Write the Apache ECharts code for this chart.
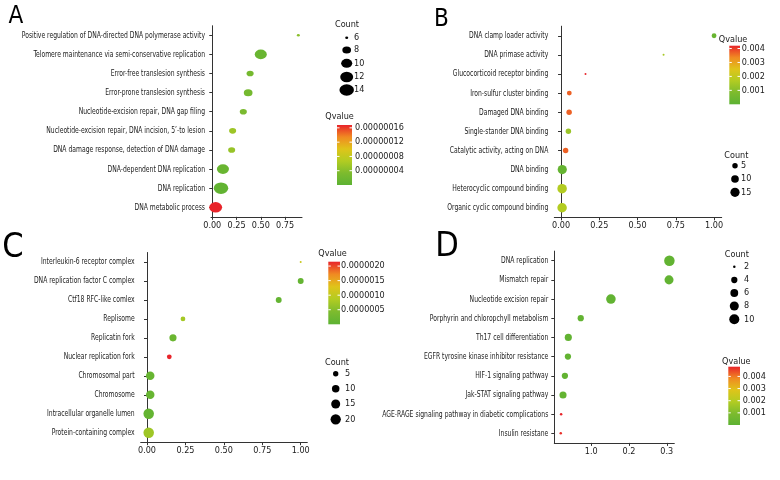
<!DOCTYPE html>
<html><head><meta charset="utf-8">
<script src="https://cdn.jsdelivr.net/npm/echarts@6/dist/echarts.min.js"></script>
<style>html,body{margin:0;padding:0;background:#fff}#c{width:780px;height:480px}</style>
</head><body><div id="c"></div>
<script>
// ---------- Panel A ----------
const catA = ['Positive regulation of DNA-directed DNA polymerase activity','Telomere maintenance via semi-conservative replication','Error-free translesion synthesis','Error-prone translesion synthesis','Nucleotide-excision repair, DNA gap filing','Nucleotide-excision repair, DNA incision, 5\u2019-to lesion','DNA damage response, detection of DNA damage','DNA-dependent DNA replication','DNA replication','DNA metabolic process'];
const xA = [0.887, 0.50, 0.39, 0.37, 0.32, 0.21, 0.20, 0.11, 0.09, 0.035];
const countA = [6, 11, 7, 8, 7, 7, 7, 11, 14, 12];
const qA = [0.000000042, 0.000000013, 0.000000025, 0.000000025, 0.00000003, 0.000000054, 0.00000005, 0.000000013, 0.000000005, 0.000000168];
const ticksA = [0, 0.25, 0.5, 0.75];
const tickLabelsA = ['0.00','0.25','0.50','0.75'];
const sizeBreaksA = [6, 8, 10, 12, 14];
const qBreaksA = [0.00000016, 0.00000012, 0.00000008, 0.00000004];
const qLabelsA = ['0.00000016','0.00000012','0.00000008','0.00000004'];

// ---------- Panel B ----------
const catB = ['DNA clamp loader activity','DNA primase activity','Glucocorticoid receptor binding','Iron-sulfur cluster binding','Damaged DNA binding','Single-stander DNA binding','Catalytic activity, acting on DNA','DNA binding','Heterocyclic compound binding','Organic cyclic compound binding'];
const xB = [1.00, 0.67, 0.16, 0.054, 0.053, 0.048, 0.03, 0.008, 0.007, 0.007];
const countB = [4, 2, 2, 4, 5, 5, 5, 15, 16, 16];
const qB = [0.0003, 0.0015, 0.0042, 0.0037, 0.0037, 0.0013, 0.0037, 0.0002, 0.0017, 0.0017];
const ticksB = [0, 0.25, 0.5, 0.75, 1];
const tickLabelsB = ['0.00','0.25','0.50','0.75','1.00'];
const sizeBreaksB = [5, 10, 15];
const qBreaksB = [0.004, 0.003, 0.002, 0.001];
const qLabelsB = ['0.004','0.003','0.002','0.001'];

// ---------- Panel C ----------
const catC = ['Interleukin-6 receptor complex','DNA replication factor C complex','Ctf18 RFC-like comlex','Replisome','Replicatin fork','Nuclear replication fork','Chromosomal part','Chromosome','Intracellular organelle lumen','Protein-containing complex'];
const xC = [1.00, 1.00, 0.857, 0.234, 0.169, 0.145, 0.021, 0.021, 0.011, 0.011];
const countC = [2, 6, 6, 4, 9, 4, 13, 13, 21, 21];
const qC = [0.00000107, 0.0000001, 0.0000001, 0.00000075, 0.00000017, 0.00000215, 0.00000013, 0.00000013, 0.0000001, 0.0000007];
const ticksC = [0, 0.25, 0.5, 0.75, 1];
const tickLabelsC = ['0.00','0.25','0.50','0.75','1.00'];
const sizeBreaksC = [5, 10, 15, 20];
const qBreaksC = [0.000002, 0.0000015, 0.000001, 0.0000005];
const qLabelsC = ['0.0000020','0.0000015','0.0000010','0.0000005'];

// ---------- Panel D ----------
const catD = ['DNA replication','Mismatch repair','Nucleotide excision repair','Porphyrin and chloropchyll metabolism','Th17 cell differentiation','EGFR tyrosine kinase inhibitor resistance','HIF-1 signaling pathway','Jak-STAT signaling pathway','AGE-RAGE signaling pathway in diabetic complications','Insulin resistane'];
const xD = [0.307, 0.306, 0.152, 0.072, 0.039, 0.038, 0.030, 0.025, 0.020, 0.019];
const countD = [11, 8, 9, 4, 5, 4, 4, 5, 2, 2];
const qD = [0.00015, 0.00015, 0.00015, 0.00015, 0.00015, 0.00015, 0.00015, 0.0002, 0.0048, 0.0047];
const ticksD = [0.1, 0.2, 0.3];
const tickLabelsD = ['1.0','0.2','0.3'];
const sizeBreaksD = [2, 4, 6, 8, 10];
const qBreaksD = [0.004, 0.003, 0.002, 0.001];
const qLabelsD = ['0.004','0.003','0.002','0.001'];

// ---------- styling / layout ----------
const FONT = "'Liberation Sans Narrow','DejaVu Sans Condensed','Open Sans',sans-serif";
const TXT = '#1a1a1a';
const palette = ['#5db233','#7dbb2e','#b2cc22','#dfc41a','#f08a22','#e8242a'];
const LABEL_SCALE = 0.71;

const panels = [
  {cats:catA, xs:xA, counts:countA, q:qA, ticks:ticksA, tl:tickLabelsA, sb:sizeBreaksA, qb:qBreaksA, ql:qLabelsA,
   grid:{left:211, top:25.75, width:91, height:191.1}, xmin:-0.013, xmax:0.925,
   qlo:0, qhi:0.000000168, size:{cMin:6, cMax:14, dMin:3, dMax:14.5, ry:0.8},
   letter:{t:'A', x:16, y:17, fs:24},
   cl:{title:[347,25], dotX:346.7, ys:[37.7,50,63.3,77,90], labX:354},
   cb:{title:[339.5,117], x:337, y:125, w:15, h:60, labX:355}},
  {cats:catB, xs:xB, counts:countB, q:qB, ticks:ticksB, tl:tickLabelsB, sb:sizeBreaksB, qb:qBreaksB, ql:qLabelsB,
   grid:{left:554.3, top:26.2, width:167.4, height:191.1}, xmin:-0.044, xmax:1.05,
   qlo:0, qhi:0.0042, size:{cMin:2, cMax:16, dMin:2, dMax:9.5, ry:1},
   letter:{t:'B', x:441.3, y:20, fs:24},
   cl:{title:[736.3,155.3], dotX:735, ys:[165.7,179,192.3], labX:741},
   cb:{title:[733,39.3], x:729.3, y:45.7, w:10.7, h:58.6, labX:741.7}},
  {cats:catC, xs:xC, counts:countC, q:qC, ticks:ticksC, tl:tickLabelsC, sb:sizeBreaksC, qb:qBreaksC, ql:qLabelsC,
   grid:{left:140.7, top:252.5, width:166.6, height:189.7}, xmin:-0.041, xmax:1.043,
   qlo:0, qhi:0.00000215, size:{cMin:2, cMax:21, dMin:2, dMax:10.5, ry:1},
   letter:{t:'C', x:13, y:248, fs:34},
   cl:{title:[337,362.3], dotX:335.7, ys:[373.7,388.7,404,419.3], labX:345},
   cb:{title:[332.5,253.3], x:328.3, y:261.7, w:11.7, h:62.6, labX:341}},
  {cats:catD, xs:xD, counts:countD, q:qD, ticks:ticksD, tl:tickLabelsD, sb:sizeBreaksD, qb:qBreaksD, ql:qLabelsD,
   grid:{left:554.3, top:251.1, width:120, height:191.8}, xmin:0.0019, xmax:0.320,
   qlo:0, qhi:0.0048, size:{cMin:2, cMax:11, dMin:2.5, dMax:10.5, ry:1},
   letter:{t:'D', x:447, y:247, fs:34},
   cl:{title:[736.8,255], dotX:734.3, ys:[266.7,280,293,306,319.3], labX:744},
   cb:{title:[736.3,361.3], x:728.3, y:366.7, w:11.7, h:58.3, labX:742.7}}
];

function diam(c, s){
  const t = Math.sqrt(Math.max(0, (c - s.cMin) / (s.cMax - s.cMin)));
  return s.dMin + (s.dMax - s.dMin) * t;
}

const grids=[], xAxes=[], yAxes=[], series=[], vms=[], graphics=[];
panels.forEach((p,i)=>{
  grids.push(Object.assign({containLabel:false, outerBoundsMode:'none'}, p.grid));
  const ticks = p.ticks, tl = p.tl;
  xAxes.push({type:'value', gridIndex:i, min:p.xmin, max:p.xmax,
    axisLine:{show:true, lineStyle:{color:'#333', width:1}},
    splitLine:{show:false},
    axisTick:{show:true, length:3, customValues:ticks, lineStyle:{color:'#333'}},
    axisLabel:{customValues:ticks, fontSize:9, fontFamily:FONT, color:TXT, margin:4,
      formatter:(v)=>{const k=ticks.findIndex(t=>Math.abs(t-v)<1e-9); return k>=0?tl[k]:'';}}
  });
  yAxes.push({type:'category', gridIndex:i, data:p.cats, inverse:true,
    axisLine:{show:true, lineStyle:{color:'#333', width:1}},
    axisTick:{show:true, alignWithLabel:true, length:3, lineStyle:{color:'#333'}},
    splitLine:{show:false},
    axisLabel:{show:false}
  });
  const s = p.size;
  series.push({type:'scatter', xAxisIndex:i, yAxisIndex:i,
    data:p.cats.map((c,j)=>[p.xs[j], c, p.q[j], p.counts[j]]),
    symbolSize:(v)=>{const d=diam(v[3], s); return s.ry===1? d : [d, d*s.ry];},
    itemStyle:{opacity:1}, emphasis:{disabled:true}, z:3
  });
  vms.push({type:'continuous', show:false, seriesIndex:i, dimension:2, min:p.qlo, max:p.qhi,
    inRange:{color:palette}});

  graphics.push({type:'text', x:p.letter.x, y:p.letter.y,
    style:{text:p.letter.t, fontSize:p.letter.fs, fontFamily:FONT, fill:'#000', align:'center', verticalAlign:'middle'}});
  graphics.push({type:'text', x:p.cl.title[0], y:p.cl.title[1],
    style:{text:'Count', fontSize:9, fontFamily:FONT, fill:TXT, align:'center', verticalAlign:'middle'}});
  p.sb.forEach((b,k)=>{
    const d = diam(b, s);
    graphics.push({type:'circle', x:p.cl.dotX, y:p.cl.ys[k], scaleY:s.ry,
      shape:{cx:0, cy:0, r:d/2}, style:{fill:'#000'}});
    graphics.push({type:'text', x:p.cl.labX, y:p.cl.ys[k],
      style:{text:String(b), fontSize:9, fontFamily:FONT, fill:TXT, align:'left', verticalAlign:'middle'}});
  });
  const cb = p.cb;
  graphics.push({type:'text', x:cb.title[0], y:cb.title[1],
    style:{text:'Qvalue', fontSize:9, fontFamily:FONT, fill:TXT, align:'center', verticalAlign:'middle'}});
  const stops = palette.map((c,k)=>({offset:k/(palette.length-1), color:c}));
  graphics.push({type:'rect', shape:{x:cb.x, y:cb.y, width:cb.w, height:cb.h},
    style:{fill:new echarts.graphic.LinearGradient(0,1,0,0,stops)}});
  p.qb.forEach((v,k)=>{
    const yy = cb.y + cb.h - (v - p.qlo)/(p.qhi - p.qlo)*cb.h;
    graphics.push({type:'line', shape:{x1:cb.x, y1:yy, x2:cb.x+2.5, y2:yy}, style:{stroke:'#fff', lineWidth:1}});
    graphics.push({type:'line', shape:{x1:cb.x+cb.w-2.5, y1:yy, x2:cb.x+cb.w, y2:yy}, style:{stroke:'#fff', lineWidth:1}});
    graphics.push({type:'text', x:cb.labX, y:yy,
      style:{text:p.ql[k], fontSize:9, fontFamily:FONT, fill:TXT, align:'left', verticalAlign:'middle'}});
  });
});

const chart = echarts.init(document.getElementById('c'), null, {renderer:'canvas'});
chart.setOption({
  backgroundColor:'#fff',
  animation:false,
  grid:grids, xAxis:xAxes, yAxis:yAxes, series:series, visualMap:vms
});

// category labels: placed through the y-axis scale, condensed horizontally like the original
panels.forEach((p,i)=>{
  p.cats.forEach((c,j)=>{
    const y = chart.convertToPixel({yAxisIndex:i}, j);
    graphics.push({type:'text', x:p.grid.left - 6, y:y, scaleX:LABEL_SCALE,
      style:{text:c, fontSize:9.5, fontFamily:FONT, fill:TXT, align:'right', verticalAlign:'middle'}});
  });
});
chart.setOption({graphic:{elements:graphics}});
</script></body></html>
